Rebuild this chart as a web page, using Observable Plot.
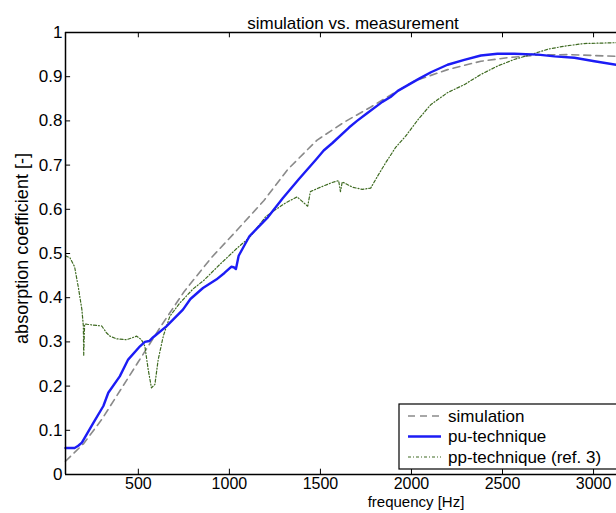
<!DOCTYPE html>
<html><head><meta charset="utf-8">
<script src="https://cdn.jsdelivr.net/npm/d3@7"></script>
<script src="https://cdn.jsdelivr.net/npm/@observablehq/plot@0.6"></script>
<style>
body{margin:0;background:#fff;}
#chart{width:616px;height:513px;}
</style></head><body><div id="chart"></div>
<script>
// simulation (grey dashed)
const simFreq = [100,200,300,400,500,620,750,900,1040,1190,1320,1480,1630,1775,1900,2016,2198,2381,2527,2695,2870,3055,3126];
const simVal  = [0.03,0.07,0.125,0.19,0.255,0.333,0.413,0.49,0.552,0.62,0.69,0.756,0.797,0.831,0.862,0.89,0.916,0.935,0.943,0.949,0.95,0.947,0.946];
// pu-technique (blue solid)
const puFreq = [100,150,170,190,253,308,335,398,444,509,536,560,580,654,745,786,855,928,973,1010,1024,1036,1051,1110,1207,1293,1381,1475,1518,1566,1657,1701,1749,1840,1885,1925,2040,2107,2198,2290,2381,2472,2564,2695,2786,2895,3005,3126];
const puVal  = [0.06,0.06,0.065,0.072,0.117,0.155,0.185,0.222,0.26,0.29,0.30,0.302,0.31,0.335,0.373,0.397,0.422,0.441,0.456,0.47,0.469,0.465,0.495,0.539,0.58,0.625,0.668,0.712,0.733,0.75,0.785,0.80,0.815,0.843,0.854,0.868,0.895,0.91,0.927,0.938,0.948,0.952,0.952,0.950,0.946,0.943,0.935,0.927];
// pp-technique (ref. 3) (green dash-dot)
const ppFreq = [100,125,150,172,190,198,200,205,216,253,299,326,344,381,436,491,517,536,554,572,591,609,637,673,728,801,859,947,1042,1110,1201,1256,1311,1372,1430,1445,1500,1560,1600,1610,1620,1676,1730,1776,1811,1858,1913,1967,2040,2107,2198,2290,2381,2472,2564,2655,2747,2838,2947,3126];
const ppVal  = [0.495,0.49,0.47,0.42,0.373,0.336,0.27,0.34,0.34,0.338,0.336,0.32,0.313,0.307,0.305,0.313,0.305,0.29,0.238,0.196,0.204,0.26,0.313,0.358,0.388,0.42,0.439,0.475,0.512,0.536,0.584,0.60,0.615,0.628,0.607,0.64,0.65,0.66,0.665,0.64,0.662,0.65,0.645,0.648,0.673,0.705,0.74,0.765,0.805,0.837,0.864,0.882,0.905,0.924,0.939,0.95,0.962,0.969,0.975,0.977];

const xTicks = [500,1000,1500,2000,2500,3000];
const xTickLabels = ["500","1000","1500","2000","2500","3000"];
const yTicks = [0,0.1,0.2,0.3,0.4,0.5,0.6,0.7,0.8,0.9,1];
const yTickLabels = ["0","0.1","0.2","0.3","0.4","0.5","0.6","0.7","0.8","0.9","1"];
const titleText = "simulation vs. measurement";
const xLabel = "frequency [Hz]";
const yLabel = "absorption coefficient [-]";
const seriesNames = ["simulation","pu-technique","pp-technique (ref. 3)"];

const sim = simFreq.map((f,i)=>({f, v: simVal[i]}));
const pu = puFreq.map((f,i)=>({f, v: puVal[i]}));
const pp = ppFreq.map((f,i)=>({f, v: ppVal[i]}));

const styles = [
  {stroke:"#8a8a8a", strokeWidth:1.6, strokeDasharray:"7,5"},
  {stroke:"#1c1cf5", strokeWidth:2.4},
  {stroke:"#3f6b22", strokeWidth:1.2, strokeDasharray:"3,2,1,2"}
];

const font = "'Liberation Sans', Arial, sans-serif";
const chart = Plot.plot({
  width:616, height:513,
  marginLeft:65, marginRight:0, marginTop:32, marginBottom:39,
  style:{fontFamily:font, fontSize:"16px", background:"#fff", color:"#000"},
  x:{domain:[100,3126]},
  y:{domain:[0,1]},
  marks:[
    Plot.line(sim,{x:"f", y:"v", ...styles[0]}),
    Plot.line(pp,{x:"f", y:"v", ...styles[2]}),
    Plot.line(pu,{x:"f", y:"v", ...styles[1]}),
    Plot.ruleY([0,1],{stroke:"#000", strokeWidth:1.5}),
    Plot.ruleX([100],{stroke:"#000", strokeWidth:1.5}),
    Plot.ruleX(xTicks,{y1:0, y2:0.012, stroke:"#000"}),
    Plot.ruleX(xTicks,{y1:1, y2:0.988, stroke:"#000"}),
    Plot.ruleY(yTicks,{x1:100, x2:128, stroke:"#000"}),
    Plot.axisX({ticks:xTicks, tickSize:0, tickPadding:3, label:null, fontSize:16,
      tickFormat:(d)=>xTickLabels[xTicks.indexOf(d)]}),
    Plot.axisY({ticks:yTicks, tickSize:0, tickPadding:3, label:null, fontSize:17,
      tickFormat:(d)=>yTickLabels[yTicks.indexOf(d)]}),
    Plot.text([titleText],{frameAnchor:"top", dx:12, dy:-16, fontSize:17}),
    Plot.text([xLabel],{frameAnchor:"bottom", dx:75, dy:32, fontSize:15}),
    Plot.text([yLabel],{frameAnchor:"left", textAnchor:"middle", rotate:-90, dx:-43, dy:-5, fontSize:18})
  ]
});
document.getElementById("chart").appendChild(chart);

// legend box (MATLAB-like) inside plot area
const svg = d3.select(chart);
const lg = svg.append("g").attr("font-family", font).attr("font-size", 17).attr("text-anchor","start");
lg.append("rect").attr("x",399).attr("y",404).attr("width",240).attr("height",65)
  .attr("fill","#fff").attr("stroke","#000").attr("stroke-width",1.2);
seriesNames.forEach((name,i)=>{
  const y = 416 + i*20.5;
  const s = styles[i];
  lg.append("line").attr("x1",408).attr("x2",441).attr("y1",y).attr("y2",y)
    .attr("stroke",s.stroke).attr("stroke-width",s.strokeWidth)
    .attr("stroke-dasharray",s.strokeDasharray||null);
  lg.append("text").attr("x",448).attr("y",y).attr("dy","0.35em").attr("fill","#000").text(name);
});
</script></body></html>
